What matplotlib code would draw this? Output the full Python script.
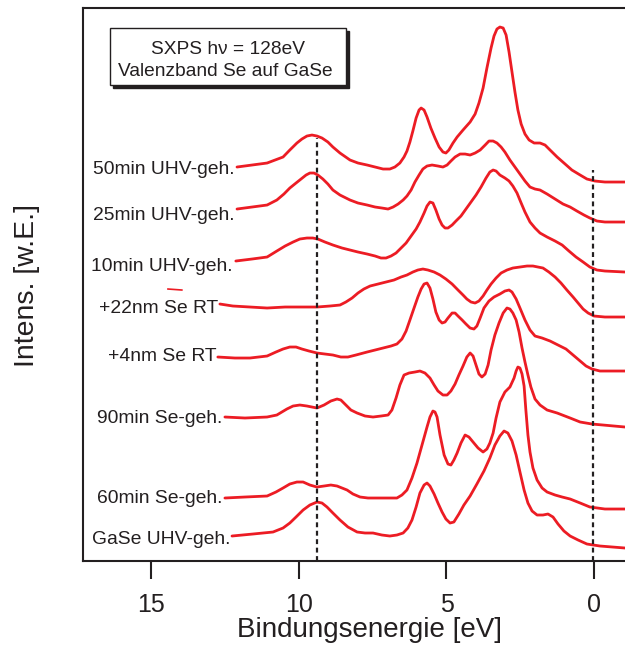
import numpy as np
import matplotlib
matplotlib.use("Agg")
import matplotlib.pyplot as plt
from matplotlib.patches import Rectangle

plt.rcParams['font.family'] = ['Liberation Sans', 'DejaVu Sans']

# Spectra: binding energy [eV] and intensity [a.u.]
e_50min = [12.10, 11.08, 10.54, 10.31, 10.07, 9.90, 9.73, 9.56, 9.39, 9.22, 9.02, 8.85, 8.61, 8.27,
           8.00, 7.69, 7.42, 7.15, 6.92, 6.75, 6.58, 6.44, 6.34, 6.24, 6.14, 6.03, 5.93, 5.86, 5.76,
           5.66, 5.53, 5.39, 5.25, 5.12, 5.02, 4.92, 4.78, 4.64, 4.44, 4.20, 4.03, 3.90, 3.76, 3.63,
           3.49, 3.39, 3.29, 3.19, 3.08, 2.98, 2.88, 2.78, 2.68, 2.58, 2.47, 2.34, 2.20, 2.03, 1.83,
           1.66, 1.49, 1.25, 0.98, 0.75, 0.47, 0.24, -0.03, -0.37, -1.05]
i_50min = [394, 398, 404, 411, 418, 422, 425, 426, 425, 423, 419, 414, 408, 401,
           398, 396, 394, 392, 392, 394, 398, 404, 410, 419, 430, 443, 451, 453, 451,
           444, 433, 423, 414, 409, 408, 411, 418, 424, 431, 439, 447, 458, 473, 493,
           513, 525, 532, 534, 533, 526, 509, 489, 469, 451, 437, 427, 421, 418, 418,
           416, 411, 404, 397, 391, 386, 382, 380, 379, 379]

e_25min = [12.10, 11.59, 11.08, 10.75, 10.51, 10.31, 10.10, 9.93, 9.76, 9.63, 9.49, 9.36, 9.19,
           9.02, 8.85, 8.61, 8.27, 8.00, 7.69, 7.42, 7.19, 6.98, 6.81, 6.64, 6.47, 6.34, 6.20,
           6.07, 5.93, 5.80, 5.66, 5.49, 5.29, 5.12, 4.98, 4.85, 4.71, 4.54, 4.37, 4.20, 4.03,
           3.86, 3.69, 3.56, 3.42, 3.29, 3.15, 3.02, 2.85, 2.68, 2.51, 2.34, 2.17, 2.00, 1.83,
           1.59, 1.32, 1.05, 0.81, 0.58, 0.34, 0.14, -0.10, -0.37, -1.05]
i_25min = [352, 354, 356, 361, 367, 373, 378, 382, 386, 388, 388, 386, 382,
           377, 371, 366, 361, 358, 356, 354, 353, 352, 354, 357, 361, 365, 371,
           379, 386, 392, 395, 396, 395, 394, 396, 400, 404, 407, 407, 406, 408,
           411, 416, 420, 420, 418, 414, 409, 401, 394, 387, 380, 374, 372, 371,
           367, 362, 357, 354, 350, 346, 343, 340, 339, 339]

e_10min = [12.14, 11.59, 11.08, 10.75, 10.47, 10.20, 9.97, 9.73, 9.53, 9.36, 9.12, 8.85, 8.54,
           8.27, 8.00, 7.69, 7.42, 7.22, 7.05, 6.88, 6.71, 6.54, 6.37, 6.20, 6.03, 5.90, 5.76,
           5.66, 5.56, 5.46, 5.36, 5.25, 5.15, 5.05, 4.95, 4.81, 4.68, 4.51, 4.34, 4.17, 4.00,
           3.83, 3.66, 3.53, 3.42, 3.32, 3.19, 3.02, 2.88, 2.75, 2.61, 2.47, 2.34, 2.17, 2.00,
           1.83, 1.59, 1.32, 1.08, 0.85, 0.61, 0.37, 0.14, -0.10, -0.37, -1.05]
i_10min = [300, 302, 304, 310, 315, 319, 322, 323, 323, 322, 319, 316, 313,
           311, 309, 307, 305, 303, 303, 305, 308, 313, 318, 325, 332, 339, 348,
           355, 359, 358, 351, 342, 336, 333, 333, 336, 340, 345, 352, 359, 366,
           374, 383, 389, 391, 390, 386, 383, 380, 375, 368, 358, 349, 339, 333,
           328, 324, 320, 316, 310, 304, 299, 294, 291, 290, 289]

e_22nm = [12.68, 12.24, 11.66, 11.08, 10.47, 9.97, 9.39, 8.95, 8.61, 8.41, 8.20, 8.00, 7.80,
          7.59, 7.32, 7.05, 6.78, 6.54, 6.34, 6.14, 5.97, 5.80, 5.63, 5.42, 5.22, 5.02, 4.81,
          4.61, 4.44, 4.31, 4.17, 4.03, 3.90, 3.76, 3.63, 3.49, 3.32, 3.15, 2.95, 2.75, 2.51,
          2.27, 2.07, 1.90, 1.73, 1.53, 1.32, 1.12, 0.92, 0.71, 0.54, 0.37, 0.20, 0.00, -0.37,
          -1.05]
i_22nm = [257, 255, 254, 253, 254, 254, 254, 255, 256, 259, 263, 268, 272,
          275, 277, 279, 281, 284, 286, 289, 291, 292, 291, 289, 286, 282, 277,
          271, 266, 262, 259, 258, 260, 265, 271, 277, 283, 288, 291, 293, 294,
          295, 295, 294, 293, 289, 284, 278, 271, 264, 258, 252, 248, 245, 244,
          244]
e_22nm_mark = [14.44, 13.97]
i_22nm_mark = [272, 271]

e_4nm = [12.75, 12.17, 11.66, 11.08, 10.78, 10.54, 10.31, 10.10, 9.90, 9.66, 9.39, 9.12, 8.85,
         8.58, 8.34, 8.07, 7.69, 7.42, 7.15, 6.88, 6.68, 6.51, 6.37, 6.24, 6.10, 5.97, 5.86,
         5.76, 5.66, 5.56, 5.46, 5.36, 5.25, 5.15, 5.05, 4.95, 4.81, 4.71, 4.61, 4.47, 4.34,
         4.20, 4.07, 3.97, 3.86, 3.73, 3.56, 3.39, 3.19, 3.02, 2.88, 2.78, 2.64, 2.51, 2.34,
         2.17, 2.00, 1.76, 1.49, 1.22, 0.95, 0.71, 0.47, 0.27, 0.07, -0.20, -1.05]
i_4nm = [204, 203, 203, 205, 209, 212, 214, 214, 212, 210, 208, 207, 206,
         204, 204, 206, 209, 211, 213, 215, 217, 222, 230, 241, 253, 264, 272,
         277, 278, 273, 262, 249, 241, 238, 239, 243, 248, 248, 245, 241, 237,
         233, 232, 235, 243, 253, 260, 264, 267, 270, 271, 269, 262, 253, 241,
         231, 225, 223, 220, 216, 212, 206, 200, 195, 192, 190, 190]

e_90min = [12.51, 11.83, 11.08, 10.75, 10.41, 10.20, 9.97, 9.73, 9.39, 9.15, 8.92, 8.71, 8.58,
           8.41, 8.24, 8.03, 7.76, 7.49, 7.22, 6.98, 6.85, 6.71, 6.58, 6.44, 6.27, 6.07, 5.90,
           5.73, 5.56, 5.42, 5.29, 5.12, 4.98, 4.85, 4.71, 4.58, 4.44, 4.31, 4.20, 4.10, 4.00,
           3.90, 3.80, 3.69, 3.59, 3.49, 3.36, 3.22, 3.08, 2.95, 2.85, 2.75, 2.64, 2.54, 2.44,
           2.34, 2.24, 2.14, 2.00, 1.83, 1.59, 1.25, 0.81, 0.47, 0.07, -1.05]
i_90min = [144, 143, 144, 146, 152, 155, 156, 155, 153, 156, 160, 162, 161,
           156, 151, 148, 145, 144, 145, 146, 151, 163, 176, 186, 188, 189, 190,
           188, 183, 176, 170, 166, 166, 170, 177, 186, 195, 204, 208, 205, 196,
           187, 184, 187, 196, 211, 226, 238, 248, 253, 252, 248, 241, 229, 213,
           199, 186, 174, 162, 156, 151, 148, 143, 139, 137, 134]

e_60min = [12.51, 11.83, 11.08, 10.78, 10.54, 10.31, 10.07, 9.86, 9.63, 9.39, 9.15, 8.92, 8.71,
           8.54, 8.37, 8.17, 7.93, 7.66, 7.36, 7.02, 6.68, 6.51, 6.34, 6.17, 6.00, 5.83, 5.66,
           5.56, 5.46, 5.39, 5.32, 5.22, 5.08, 4.95, 4.85, 4.75, 4.64, 4.51, 4.37, 4.24, 4.10,
           3.93, 3.76, 3.63, 3.53, 3.42, 3.32, 3.19, 3.02, 2.85, 2.71, 2.64, 2.58, 2.51, 2.44,
           2.37, 2.31, 2.24, 2.17, 2.07, 1.93, 1.76, 1.59, 1.32, 1.08, 0.81, 0.47, 0.14, -0.37,
           -1.05]
i_60min = [63, 64, 65, 69, 73, 77, 79, 79, 76, 74, 75, 76, 75,
           73, 71, 67, 64, 63, 63, 63, 63, 66, 71, 83, 98, 116, 134,
           144, 150, 149, 144, 126, 106, 97, 96, 101, 108, 118, 126, 124, 119,
           113, 109, 112, 118, 128, 143, 159, 169, 174, 183, 190, 194, 193, 187,
           175, 151, 126, 109, 93, 81, 73, 69, 66, 64, 62, 58, 54, 52,
           52]

e_gase = [12.27, 11.56, 10.88, 10.54, 10.31, 10.10, 9.86, 9.63, 9.39, 9.22, 9.05, 8.85, 8.61,
          8.34, 8.03, 7.76, 7.49, 7.19, 6.92, 6.68, 6.47, 6.31, 6.17, 6.03, 5.90, 5.76, 5.66,
          5.56, 5.42, 5.29, 5.15, 5.02, 4.88, 4.75, 4.58, 4.41, 4.20, 3.97, 3.73, 3.53, 3.36,
          3.19, 3.05, 2.92, 2.78, 2.64, 2.51, 2.37, 2.24, 2.10, 1.93, 1.73, 1.56, 1.39, 1.22,
          1.02, 0.81, 0.54, 0.24, -0.20, -1.05]
i_gase = [25, 27, 29, 33, 38, 44, 51, 56, 59, 58, 54, 48, 41,
          34, 29, 28, 28, 26, 25, 26, 28, 33, 41, 54, 68, 76, 78,
          75, 67, 58, 49, 42, 38, 39, 47, 56, 65, 77, 90, 103, 116,
          125, 130, 128, 120, 106, 89, 71, 58, 50, 46, 46, 47, 44, 37,
          30, 25, 21, 17, 15, 13]

labels = ['50min UHV-geh.', '25min UHV-geh.', '10min UHV-geh.', '+22nm Se RT',
          '+4nm Se RT', '90min Se-geh.', '60min Se-geh.', 'GaSe UHV-geh.']
label_e = [12.17, 12.17, 12.24, 12.75, 12.78, 12.61, 12.61, 12.31]
label_i = [387, 341, 290, 248, 200, 138, 58, 17]

ref_e = [9.39, 0.05]
ref_top = [423, 391]

red = '#ec1c24'
ink = '#231f20'

fig = plt.figure(figsize=(6.25, 6.47), dpi=100)
ax = fig.add_axes([0.1328, 0.1329, 0.8672, 0.8547])

spectra = [(e_50min, i_50min), (e_25min, i_25min), (e_10min, i_10min), (e_22nm, i_22nm),
           (e_4nm, i_4nm), (e_90min, i_90min), (e_60min, i_60min), (e_gase, i_gase)]
for e, i in spectra:
    ax.plot(e, i, color=red, lw=2.0, solid_joinstyle='round', solid_capstyle='round')
ax.plot(e_22nm_mark, i_22nm_mark, color=red, lw=1.2)

for e, top in zip(ref_e, ref_top):
    ax.plot([e, e], [0, top], color=ink, lw=1.6, linestyle=(0, (2.2, 1.6)))

for txt, e, i in zip(labels, label_e, label_i):
    ax.text(e, i, txt, ha='right', va='baseline', fontsize=13.9, color=ink)

ax.set_xlim(17.32, -1.05)
ax.set_ylim(0, 553)

for side in ['left', 'bottom', 'top']:
    ax.spines[side].set_color(ink)
    ax.spines[side].set_linewidth(1.5)
ax.spines['right'].set_visible(False)

ax.set_yticks([])
ax.set_xticks([15, 10, 5, 0])
ax.tick_params(axis='x', direction='out', length=13, width=1.5, color=ink,
               labelsize=18, labelcolor=ink, pad=10)

fig.text(0.5912, 0.0155, 'Bindungsenergie [eV]', ha='center', va='baseline',
         fontsize=20, color=ink)
fig.text(0.0432, 0.5595, 'Intens. [w.E.]', ha='center', va='center',
         rotation=90, fontsize=20.4, color=ink)

# info box with drop shadow
bx, by, bw, bh = 0.176, 0.8686, 0.3776, 0.0881
fig.patches.append(Rectangle((bx + 0.005, by - 0.0046), bw, bh, transform=fig.transFigure,
                             facecolor=ink, edgecolor=ink, lw=1.0, zorder=5))
fig.patches.append(Rectangle((bx, by), bw, bh, transform=fig.transFigure,
                             facecolor='white', edgecolor=ink, lw=1.0, zorder=6))
fig.text(0.3648, 0.9165, 'SXPS h\u03bd = 128eV', ha='center', va='baseline',
         fontsize=13.8, color=ink, zorder=7)
fig.text(0.3600, 0.8825, 'Valenzband Se auf GaSe', ha='center', va='baseline',
         fontsize=13.8, color=ink, zorder=7)

plt.savefig('out.png', dpi=100)
